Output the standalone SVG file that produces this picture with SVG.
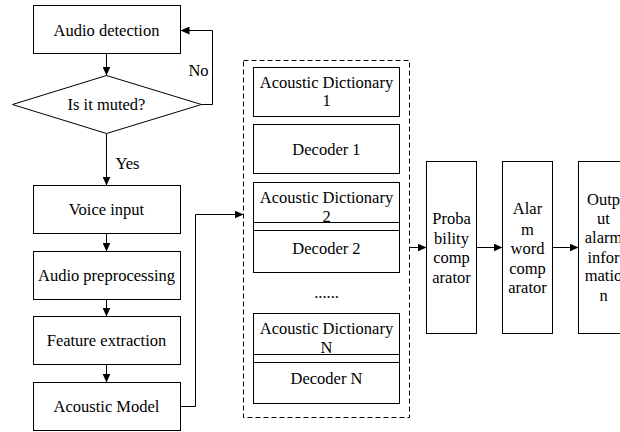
<svg xmlns="http://www.w3.org/2000/svg" width="620" height="432" viewBox="0 0 620 432">
<defs>
<marker id="arr" markerWidth="10" markerHeight="8" refX="9" refY="4" orient="auto" markerUnits="userSpaceOnUse">
<path d="M0,0 L9,4 L0,8 Z" fill="#000"/>
</marker>
<style>
.box{fill:#fff;stroke:#000;stroke-width:1}
.open{fill:none}
.t{font-family:'Liberation Serif','Times New Roman',serif;font-size:16.5px;fill:#000;text-anchor:middle}
.c{fill:none;stroke:#000;stroke-width:1}
.dash{fill:none;stroke:#000;stroke-width:1;stroke-dasharray:5,3}
</style>
</defs>
<rect width="620" height="432" fill="#fff"/>
<g transform="translate(0.5,0.5)">
<g id="connectors">
<line class="c" x1="106" y1="53" x2="106" y2="75" marker-end="url(#arr)"/>
<polyline class="c" points="201,104 212,104 212,30 180,30" marker-end="url(#arr)"/>
<line class="c" x1="106" y1="133" x2="106" y2="185" marker-end="url(#arr)"/>
<line class="c" x1="106" y1="233" x2="106" y2="251" marker-end="url(#arr)"/>
<line class="c" x1="106" y1="299" x2="106" y2="316" marker-end="url(#arr)"/>
<line class="c" x1="106" y1="364" x2="106" y2="382" marker-end="url(#arr)"/>
<polyline class="c" points="180,406 195,406 195,214 243,214" marker-end="url(#arr)"/>
<line class="c" x1="409" y1="247" x2="426" y2="247" marker-end="url(#arr)"/>
<line class="c" x1="476" y1="247" x2="502" y2="247" marker-end="url(#arr)"/>
<line class="c" x1="552" y1="247" x2="578" y2="247" marker-end="url(#arr)"/>
<text class="t" x="198" y="75">No</text>
<text class="t" x="127" y="168">Yes</text>
</g>
<g id="audio-detection">
<rect class="box" x="33" y="5" width="147" height="48"/>
<text class="t" x="106" y="35">Audio detection</text>
</g>
<g id="is-muted">
<polygon class="box" points="12,104 106,75 201,104 106,133"/>
<text class="t" x="106" y="109">Is it muted?</text>
</g>
<g id="voice-input">
<rect class="box" x="33" y="185" width="147" height="48"/>
<text class="t" x="106" y="214">Voice input</text>
</g>
<g id="audio-preprocessing">
<rect class="box" x="33" y="251" width="147" height="48"/>
<text class="t" x="106" y="280">Audio preprocessing</text>
</g>
<g id="feature-extraction">
<rect class="box" x="33" y="316" width="147" height="48"/>
<text class="t" x="106" y="345">Feature extraction</text>
</g>
<g id="acoustic-model">
<rect class="box" x="33" y="382" width="147" height="48"/>
<text class="t" x="106" y="411">Acoustic Model</text>
</g>
<g id="decoder-group">
<rect class="dash" x="243" y="60" width="166" height="357"/>
</g>
<g id="acoustic-dictionary-1">
<rect class="box" x="253" y="67" width="146" height="49"/>
<text class="t" x="326" y="87">Acoustic Dictionary</text>
<text class="t" x="326" y="105">1</text>
</g>
<g id="decoder-1">
<rect class="box" x="253" y="124" width="146" height="49"/>
<text class="t" x="326" y="154">Decoder 1</text>
</g>
<g id="acoustic-dictionary-2">
<rect class="box" x="253" y="182" width="146" height="48"/>
<text class="t" x="326" y="202">Acoustic Dictionary</text>
<text class="t" x="326" y="221">2</text>
</g>
<g id="decoder-2">
<rect class="box open" x="253" y="222" width="146" height="50"/>
<text class="t" x="326" y="253">Decoder 2</text>
</g>
<g id="ellipsis">
<text class="t" x="326" y="297">......</text>
</g>
<g id="acoustic-dictionary-n">
<rect class="box" x="253" y="313" width="146" height="49"/>
<text class="t" x="326" y="333">Acoustic Dictionary</text>
<text class="t" x="326" y="352">N</text>
</g>
<g id="decoder-n">
<rect class="box open" x="253" y="354" width="146" height="49"/>
<text class="t" x="326" y="383">Decoder N</text>
</g>
<g id="probability-comparator">
<rect class="box" x="426" y="161" width="50" height="172"/>
<text class="t" x="451" y="223">Proba</text>
<text class="t" x="451" y="243">bility</text>
<text class="t" x="451" y="262">comp</text>
<text class="t" x="451" y="282">arator</text>
</g>
<g id="alarm-word-comparator">
<rect class="box" x="502" y="161" width="50" height="172"/>
<text class="t" x="527" y="213">Alar</text>
<text class="t" x="527" y="234">m</text>
<text class="t" x="527" y="253">word</text>
<text class="t" x="527" y="273">comp</text>
<text class="t" x="527" y="292">arator</text>
</g>
<g id="output-alarm-information">
<rect class="box" x="578" y="161" width="50" height="172"/>
<text class="t" x="603" y="204">Outp</text>
<text class="t" x="603" y="223">ut</text>
<text class="t" x="603" y="242">alarm</text>
<text class="t" x="603" y="262">infor</text>
<text class="t" x="603" y="280">matio</text>
<text class="t" x="603" y="300">n</text>
</g>
</g>
</svg>
